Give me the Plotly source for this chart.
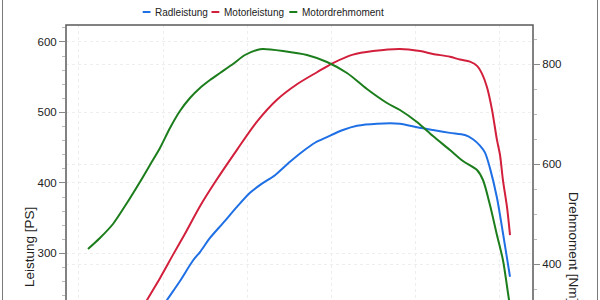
import plotly.graph_objects as go

# ---- data ----
rpm_rad = [1890, 2045, 2200, 2354, 2437, 2556, 2710, 2876, 3031, 3173, 3328, 3506, 3660,
           3803, 3945, 4135, 4302, 4539, 4812, 5014, 5204, 5406, 5584, 5679, 5762, 5822,
           5881, 5964, 6035, 6119]
radleistung = [207, 234, 261, 290, 302, 322, 343, 366, 386, 399, 411, 430, 445,
               457, 465, 475, 481, 484, 484, 479, 475, 471, 468, 462, 453, 443,
               421, 379, 329, 267]

rpm_motor = [1665, 1808, 1962, 2116, 2259, 2437, 2615, 2876, 3114, 3351, 3589, 3826, 4016,
             4254, 4492, 4812, 5050, 5204, 5406, 5525, 5643, 5727, 5786, 5845, 5905, 5964,
             6000, 6035, 6083, 6119]
motorleistung = [203, 234, 265, 298, 328, 367, 401, 447, 487, 518, 540, 557, 570,
                 582, 587, 590, 587, 583, 579, 575, 572, 566, 555, 536, 504, 461,
                 440, 404, 366, 326]

rpm_dm = [1107, 1249, 1404, 1570, 1724, 1843, 1962, 2081, 2199, 2318, 2437, 2556, 2675,
          2829, 2971, 3114, 3185, 3423, 3708, 3945, 4183, 4420, 4658, 4812, 5014, 5204,
          5406, 5560, 5727, 5798, 5881, 5964, 6035, 6095, 6142]
drehmoment = [430, 452, 480, 522, 564, 598, 632, 672, 706, 732, 752, 768, 782,
              800, 818, 828, 830, 826, 818, 804, 782, 750, 722, 708, 684, 656,
              628, 606, 588, 568, 518, 458, 408, 342, 288]

series_names = ["Radleistung", "Motorleistung", "Motordrehmoment"]
series_colors = ["#1f6fe5", "#d21f3c", "#1b7d1b"]
y_title_left = "Leistung [PS]"
y_title_right = "Drehmoment [Nm]"

# ---- layout geometry (pixels) ----
W, H = 600, 300
L, R, T, B = 66, 533, 25, 300
pw, ph = R - L, B - T


def px(x):
    return (x - L) / pw


def py(y):
    return (B - y) / ph


FONT = "Liberation Sans"
TXT = "#222222"
LINE = dict(width=2, shape="spline", smoothing=0.8)

fig = go.Figure()
fig.add_trace(go.Scatter(x=rpm_rad, y=radleistung, name=series_names[0], mode="lines",
                         line=dict(color=series_colors[0], **LINE), yaxis="y"))
fig.add_trace(go.Scatter(x=rpm_motor, y=motorleistung, name=series_names[1], mode="lines",
                         line=dict(color=series_colors[1], **LINE), yaxis="y"))
fig.add_trace(go.Scatter(x=rpm_dm, y=drehmoment, name=series_names[2], mode="lines",
                         line=dict(color=series_colors[2], **LINE), yaxis="y2"))

grid = dict(showgrid=True, gridcolor="#eeeeee", griddash="dot", gridwidth=1)

fig.update_layout(
    width=W, height=H,
    margin=dict(l=L, r=W - R, t=T, b=0, pad=0),
    paper_bgcolor="white", plot_bgcolor="white",
    showlegend=False,
    font=dict(family=FONT, size=11, color=TXT),
    xaxis=dict(range=[846, 6392], tick0=1000, dtick=1000, showticklabels=False,
               ticks="", showline=False, zeroline=False, automargin=False, **grid),
    yaxis=dict(range=[234, 624], tick0=0, dtick=100, ticks="outside", ticklen=6,
               tickcolor="#888", tickfont=dict(size=11.5, color=TXT),
               minor=dict(dtick=20, ticks="outside", ticklen=3, tickcolor="#bbb", showgrid=False),
               showline=False, zeroline=False, automargin=False, **grid),
    yaxis2=dict(range=[328, 878], tick0=0, dtick=200, overlaying="y", side="right",
                ticks="outside", ticklen=6, tickcolor="#888", tickfont=dict(size=11.5, color=TXT),
                minor=dict(dtick=50, ticks="outside", ticklen=3, tickcolor="#bbb", showgrid=False),
                showline=False, zeroline=False, automargin=False, **grid),
)

shapes = []
# plot frame
shapes.append(dict(type="rect", xref="paper", yref="paper", x0=0, x1=1, y0=-0.3, y1=1,
                   line=dict(color="#5a5a5a", width=1.5), layer="above"))
# outer chart frame (vertical sides)
for xx in (2.5, 597.5):
    shapes.append(dict(type="line", xref="paper", yref="paper", x0=px(xx), x1=px(xx),
                       y0=-0.3, y1=py(0), line=dict(color="#7a7a7a", width=1)))

annotations = []
# legend (dashes + labels)
legend_items = [(142.7, 150.5, 153.3), (211.5, 219.3, 222.3), (289.3, 297.3, 300.3)]
for (d0, d1, tx), name, col in zip(legend_items, series_names, series_colors):
    shapes.append(dict(type="line", xref="paper", yref="paper", x0=px(d0), x1=px(d1),
                       y0=py(12), y1=py(12), line=dict(color=col, width=2)))
    annotations.append(dict(text=name, xref="paper", yref="paper", x=px(tx), y=py(12.5),
                            xanchor="left", yanchor="middle", showarrow=False,
                            font=dict(family=FONT, size=10, color=TXT)))

# axis titles (centred on the full plot height)
annotations.append(dict(text=y_title_left, xref="paper", yref="paper", x=px(29), y=py(247),
                        textangle=-90, xanchor="center", yanchor="middle", showarrow=False,
                        font=dict(family=FONT, size=13.5, color=TXT)))
annotations.append(dict(text=y_title_right, xref="paper", yref="paper", x=px(574), y=py(247),
                        textangle=90, xanchor="center", yanchor="middle", showarrow=False,
                        font=dict(family=FONT, size=13.5, color=TXT)))

fig.update_layout(shapes=shapes, annotations=annotations)

fig.write_html("out.html")
